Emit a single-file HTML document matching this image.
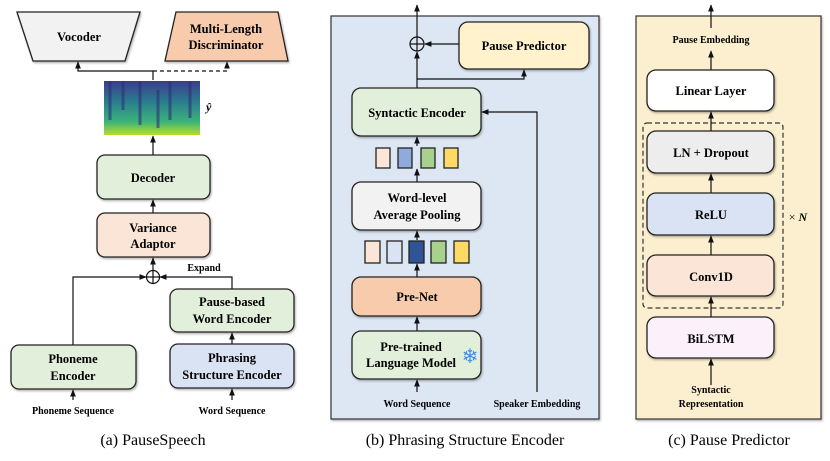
<!DOCTYPE html>
<html><head><meta charset="utf-8"><style>
body{margin:0;background:#fff}
svg{display:block}
text{font-family:"Liberation Serif",serif}
.b{font-weight:bold;font-size:12.5px;text-anchor:middle}
.s{font-weight:bold;font-size:10px;text-anchor:middle}
.c{font-size:16px;text-anchor:middle}
.bx{stroke:#222;stroke-width:1.3}
.ln{stroke:#111;stroke-width:1.2;fill:none}
</style></head><body>
<svg width="830" height="461" viewBox="0 0 830 461">
<defs>
<marker id="a" viewBox="0 0 10 10" refX="9" refY="5" markerWidth="6" markerHeight="6" orient="auto"><path d="M0,1L10,5L0,9z" fill="#111"/></marker>
<filter id="sh" x="-10%" y="-10%" width="130%" height="140%"><feDropShadow dx="1" dy="1.5" stdDeviation="1" flood-opacity="0.3"/></filter>
<linearGradient id="sp" x1="0" y1="0" x2="0" y2="1"><stop offset="0" stop-color="#3b3d8a"/><stop offset="0.4" stop-color="#2a7f8e"/><stop offset="0.75" stop-color="#3bb37a"/><stop offset="1" stop-color="#b5de2b"/></linearGradient>
</defs>

<!-- Panel a -->
<polygon points="17,12 140,12 125,61 33,61" fill="#f2f2f2" class="bx" filter="url(#sh)"/>
<text class="b" x="79" y="41">Vocoder</text>
<polygon points="176,12 278,12 288,61 165,61" fill="#f8cbad" class="bx" filter="url(#sh)"/>
<text class="b" x="226" y="33">Multi-Length</text>
<text class="b" x="226" y="49">Discriminator</text>
<path class="ln" d="M153,80V71H78V62" marker-end="url(#a)"/>
<path class="ln" d="M153,71H227V62" stroke-dasharray="4,3" marker-end="url(#a)"/>
<rect x="104" y="81" width="96" height="54" fill="url(#sp)"/>
<g stroke="#2d2f7a" stroke-width="3" opacity="0.6"><line x1="110" y1="81" x2="110" y2="120"/><line x1="123" y1="81" x2="123" y2="110"/><line x1="140" y1="81" x2="140" y2="125"/><line x1="158" y1="90" x2="158" y2="128"/><line x1="170" y1="81" x2="170" y2="120"/><line x1="190" y1="81" x2="190" y2="118"/></g>
<text x="206" y="111" font-size="12" font-weight="bold" font-style="italic">ŷ</text>
<path class="ln" d="M153,155V136" marker-end="url(#a)"/>
<rect x="97" y="155" width="113" height="44" rx="8" fill="#e2efda" class="bx" filter="url(#sh)"/>
<text class="b" x="153" y="182">Decoder</text>
<path class="ln" d="M153,213V200" marker-end="url(#a)"/>
<rect x="97" y="213" width="113" height="44" rx="8" fill="#fbe5d6" class="bx" filter="url(#sh)"/>
<text class="b" x="153" y="232">Variance</text>
<text class="b" x="153" y="248">Adaptor</text>
<circle cx="153" cy="277" r="6.5" fill="none" stroke="#111" stroke-width="1.2"/>
<path class="ln" d="M146.5,277H159.5M153,270.5V283.5"/>
<path class="ln" d="M153,270.5V258" marker-end="url(#a)"/>
<path class="ln" d="M73,345V277H146" marker-end="url(#a)"/>
<path class="ln" d="M232,289V277H160" marker-end="url(#a)"/>
<text class="s" x="204" y="271" font-size="9">Expand</text>
<rect x="170" y="289" width="124" height="43" rx="8" fill="#e2efda" class="bx" filter="url(#sh)"/>
<text class="b" x="232" y="306">Pause-based</text>
<text class="b" x="232" y="323">Word Encoder</text>
<path class="ln" d="M232,344V333" marker-end="url(#a)"/>
<rect x="170" y="344" width="124" height="44" rx="8" fill="#dae3f3" class="bx" filter="url(#sh)"/>
<text class="b" x="232" y="362">Phrasing</text>
<text class="b" x="232" y="379">Structure Encoder</text>
<rect x="11" y="345" width="125" height="44" rx="8" fill="#e2efda" class="bx" filter="url(#sh)"/>
<text class="b" x="73" y="363">Phoneme</text>
<text class="b" x="73" y="380">Encoder</text>
<path class="ln" d="M73,400V390" marker-end="url(#a)"/>
<path class="ln" d="M232,400V389" marker-end="url(#a)"/>
<text class="s" x="73" y="414">Phoneme Sequence</text>
<text class="s" x="232" y="414">Word Sequence</text>
<text class="c" x="153" y="445">(a) PauseSpeech</text>

<!-- Panel b -->
<rect x="331" y="16" width="268" height="403" fill="#dde7f3" stroke="#333" stroke-width="1.2" filter="url(#sh)"/>
<path class="ln" d="M417,37V5" marker-end="url(#a)"/>
<circle cx="417" cy="44" r="7" fill="none" stroke="#111" stroke-width="1.2"/>
<path class="ln" d="M410,44H424M417,37V51"/>
<path class="ln" d="M417,88V52" marker-end="url(#a)"/>
<path class="ln" d="M417,79H524V70" marker-end="url(#a)"/>
<path class="ln" d="M459,44H425" marker-end="url(#a)"/>
<rect x="459" y="22" width="130" height="47" rx="9" fill="#fff2cc" class="bx" filter="url(#sh)"/>
<text class="b" x="524" y="50">Pause Predictor</text>
<rect x="352" y="88" width="129" height="48" rx="9" fill="#e2efda" class="bx" filter="url(#sh)"/>
<text class="b" x="417" y="117">Syntactic Encoder</text>
<path class="ln" d="M537,392V112H482" marker-end="url(#a)"/>
<path class="ln" d="M417,146V137" marker-end="url(#a)"/>
<g class="bx" stroke-width="1"><rect x="376" y="148" width="14" height="20" fill="#fbe5d6"/><rect x="398" y="148" width="14" height="20" fill="#8faadc"/><rect x="421" y="148" width="14" height="20" fill="#a9d18e"/><rect x="444" y="148" width="14" height="20" fill="#ffd966"/></g>
<path class="ln" d="M417,182V169" marker-end="url(#a)"/>
<rect x="352" y="182" width="129" height="48" rx="9" fill="#f2f2f2" class="bx" filter="url(#sh)"/>
<text class="b" x="417" y="202">Word-level</text>
<text class="b" x="417" y="219">Average Pooling</text>
<path class="ln" d="M417,240V231" marker-end="url(#a)"/>
<g class="bx" stroke-width="1"><rect x="365" y="241" width="15" height="22" fill="#fbe5d6"/><rect x="387" y="241" width="15" height="22" fill="#dae3f3"/><rect x="409" y="241" width="15" height="22" fill="#2f5597"/><rect x="431" y="241" width="15" height="22" fill="#a9d18e"/><rect x="454" y="241" width="15" height="22" fill="#ffd966"/></g>
<path class="ln" d="M417,277V264" marker-end="url(#a)"/>
<rect x="352" y="277" width="129" height="39" rx="9" fill="#f8cbad" class="bx" filter="url(#sh)"/>
<text class="b" x="417" y="301">Pre-Net</text>
<path class="ln" d="M417,331V317" marker-end="url(#a)"/>
<rect x="352" y="331" width="129" height="48" rx="9" fill="#e2efda" class="bx" filter="url(#sh)"/>
<text class="b" x="411" y="351">Pre-trained</text>
<text class="b" x="411" y="367">Language Model</text>
<text x="470" y="363" font-size="20" fill="#3d8fe6" text-anchor="middle" font-family="DejaVu Sans,sans-serif">❄</text>
<path class="ln" d="M417,392V380" marker-end="url(#a)"/>
<text class="s" x="417" y="407">Word Sequence</text>
<text class="s" x="537" y="407">Speaker Embedding</text>
<text class="c" x="465" y="445">(b) Phrasing Structure Encoder</text>

<!-- Panel c -->
<rect x="636" y="16" width="185" height="403" fill="#fcefcf" stroke="#333" stroke-width="1.2" filter="url(#sh)"/>
<path class="ln" d="M711,28V5" marker-end="url(#a)"/>
<text class="s" x="711" y="43">Pause Embedding</text>
<path class="ln" d="M711,70V51" marker-end="url(#a)"/>
<rect x="647" y="70" width="127" height="41" rx="9" fill="#fff" class="bx" filter="url(#sh)"/>
<text class="b" x="711" y="95">Linear Layer</text>
<rect x="643" y="123" width="140" height="185" rx="4" fill="none" stroke="#333" stroke-width="1.2" stroke-dasharray="5,3"/>
<path class="ln" d="M711,131V112" marker-end="url(#a)"/>
<rect x="647" y="131" width="127" height="42" rx="9" fill="#ededed" class="bx" filter="url(#sh)"/>
<text class="b" x="711" y="157">LN + Dropout</text>
<path class="ln" d="M711,193V174" marker-end="url(#a)"/>
<rect x="647" y="193" width="127" height="42" rx="9" fill="#dae3f3" class="bx" filter="url(#sh)"/>
<text class="b" x="711" y="219">ReLU</text>
<path class="ln" d="M711,255V236" marker-end="url(#a)"/>
<rect x="647" y="255" width="127" height="41" rx="9" fill="#fbe5d6" class="bx" filter="url(#sh)"/>
<text class="b" x="711" y="281">Conv1D</text>
<path class="ln" d="M711,317V297" marker-end="url(#a)"/>
<rect x="647" y="317" width="127" height="41" rx="9" fill="#fcf0fb" class="bx" filter="url(#sh)"/>
<text class="b" x="711" y="343">BiLSTM</text>
<text x="798" y="221" font-size="12" text-anchor="middle">× <tspan font-weight="bold" font-style="italic">N</tspan></text>
<path class="ln" d="M711,385V359" marker-end="url(#a)"/>
<text class="s" x="711" y="393">Syntactic</text>
<text class="s" x="711" y="407">Representation</text>
<text class="c" x="729" y="445">(c) Pause Predictor</text>
</svg>
</body></html>
